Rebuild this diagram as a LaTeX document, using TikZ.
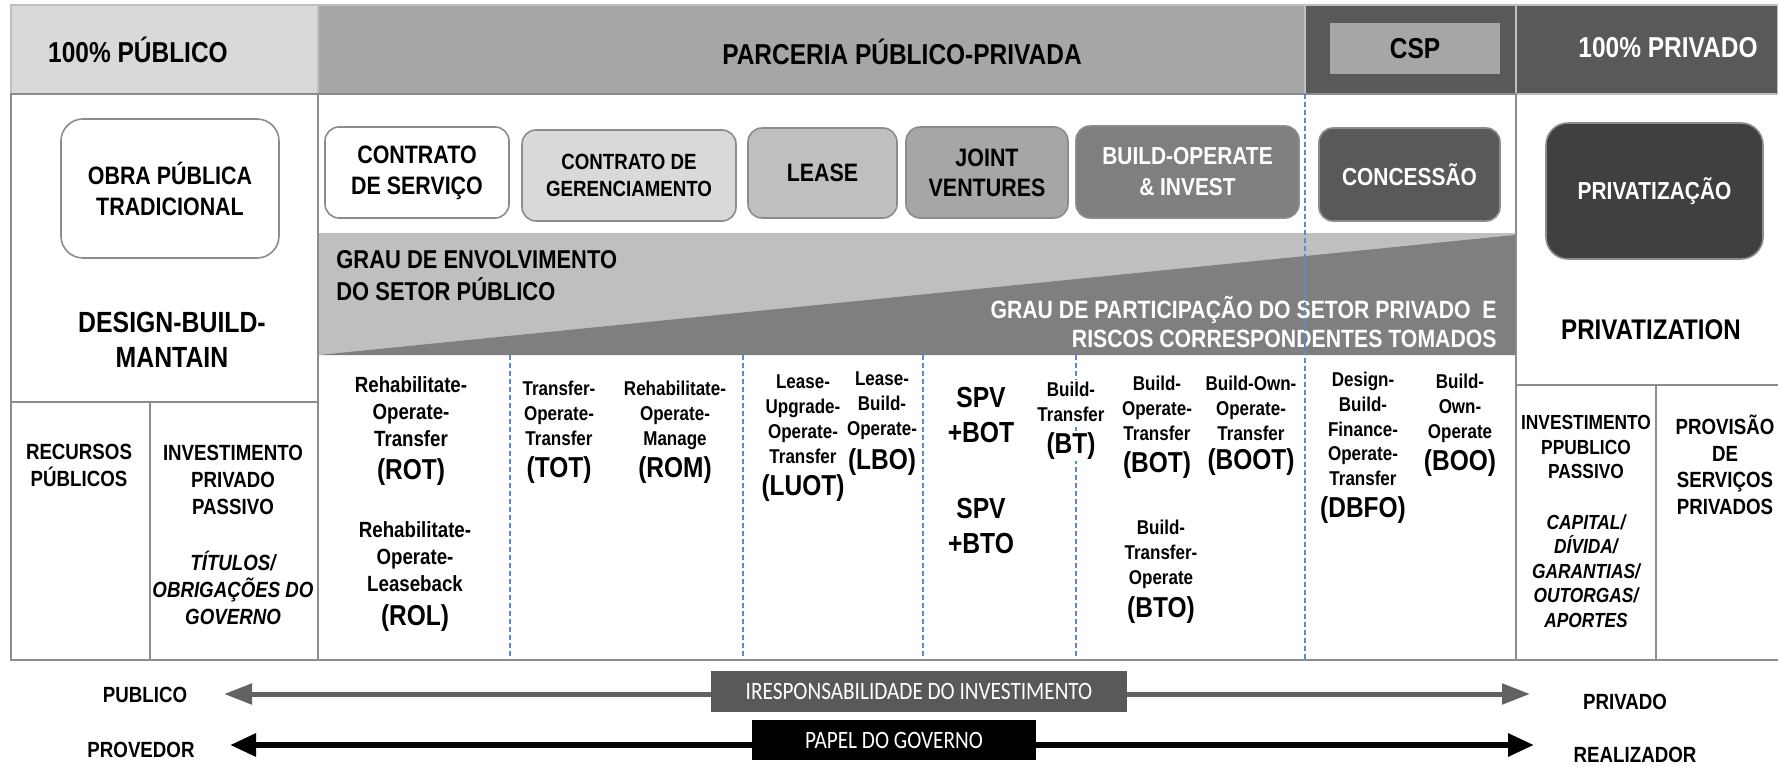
\documentclass[tikz,border=0pt]{standalone}
\usepackage{fontspec}
\setmainfont{Liberation Sans}[FakeStretch=0.85]
\newfontfamily\calfont{Carlito}[FakeStretch=0.85]
\usetikzlibrary{arrows.meta}
\definecolor{g1}{HTML}{D9D9D9}
\definecolor{g2}{HTML}{BFBFBF}
\definecolor{g3}{HTML}{A6A6A6}
\definecolor{g4}{HTML}{7F7F7F}
\definecolor{g5}{HTML}{595959}
\definecolor{g6}{HTML}{404040}
\definecolor{garrow}{HTML}{626262}
\definecolor{tabline}{HTML}{8C8C8C}
\definecolor{dashblue}{HTML}{5B8BD0}
\newcommand\fsz[2]{\fontsize{#1}{#2}\selectfont}
\begin{document}
\begin{tikzpicture}[x=0.5pt,y=-0.5pt,
  hdr/.style={inner sep=0pt,font=\bfseries\fsz{14.4}{17}},
  pbox/.style={draw=tabline,line width=0.8pt,rounded corners=7pt,align=center,inner sep=0pt,font=\bfseries\fsz{12.6}{15.5}},
  sm/.style={align=center,inner sep=0pt,font=\bfseries\fsz{10}{12.5}},
  smb/.style={align=center,inner sep=0pt,font=\bfseries\fsz{11}{13.5}},
  abbr/.style={inner sep=0pt,font=\bfseries\fsz{14.4}{17}},
  spv/.style={align=center,inner sep=0pt,font=\bfseries\fsz{14.5}{17.5}},
  sepline/.style={dashblue,line width=0.6pt,dash pattern=on 2.5pt off 1.5pt},
  cell/.style={draw=tabline,line width=1pt},
  lbl/.style={inner sep=0pt,font=\bfseries\fsz{11}{13}},
  arrbox/.style={inner sep=0pt,text=white,font=\calfont\fsz{12.5}{14}}
]
\useasboundingbox[fill=white] (0,0) rectangle (1778,766);

% header
\filldraw[fill=g1,draw=g2,line width=0.6pt] (11,5) rectangle (318,94);
\filldraw[fill=g3,draw=g2,line width=0.6pt] (318,5) rectangle (1305,94);
\filldraw[fill=g5,draw=g2,line width=0.6pt] (1305,5) rectangle (1516,94);
\filldraw[fill=g5,draw=g2,line width=0.6pt] (1516,5) rectangle (1778,94);
\node[hdr] (hpub) at (138,50) {100\% PÚBLICO};
\node[hdr] (hppp) at (902,52) {PARCERIA PÚBLICO-PRIVADA};
\node[hdr,fill=g3,minimum width=85pt,minimum height=25.5pt] (hcsp) at (1415,48.5) {CSP};
\node[hdr,text=white] (hpriv) at (1668,48) {100\% PRIVADO};

% table body
\draw[cell] (11,94) rectangle (318,660);
\draw[cell] (11,402) -- (318,402);
\draw[cell] (150,402) -- (150,660);
\draw[cell] (318,94) rectangle (1516,660);
\draw[cell] (1516,385) -- (1778,385);
\draw[cell] (1656,385) -- (1656,660);
\draw[cell] (1516,660) -- (1778,660);

% band
\fill[g2] (319,233) rectangle (1515,355);
\fill[g4] (319,355) -- (1515,235) -- (1515,355) -- cycle;
\node[font=\bfseries\fsz{12.9}{16},align=left,anchor=west,inner sep=0pt] (env) at (336,276) {GRAU DE ENVOLVIMENTO\\DO SETOR PÚBLICO};
\node[font=\bfseries\fsz{12.5}{14.5},align=right,anchor=east,text=white,inner sep=0pt] (part) at (1497,322) {GRAU DE PARTICIPAÇÃO DO SETOR PRIVADO\ \ E\\RISCOS CORRESPONDENTES TOMADOS};

% separators
\draw[sepline] (510,355) -- (510,660);
\draw[sepline] (743,355) -- (743,660);
\draw[sepline] (923,355) -- (923,660);
\draw[sepline] (1076,355) -- (1076,660);
\draw[sepline] (1305,94) -- (1305,660);

% boxes
\node[pbox,fill=white,rounded corners=11pt,minimum width=109pt,minimum height=69.5pt] (obra) at (170,188.5) {OBRA PÚBLICA\\TRADICIONAL};
\node[pbox,fill=white,minimum width=92pt,minimum height=45.5pt] (cserv) at (417,172.5) {CONTRATO\\DE SERVIÇO};
\node[pbox,fill=g1,minimum width=107pt,minimum height=45.5pt,font=\bfseries\fsz{11}{13.5}] (cger) at (629,175.5) {CONTRATO DE\\GERENCIAMENTO};
\node[pbox,fill=g2,minimum width=74.5pt,minimum height=45pt] (lease) at (822.5,173) {LEASE};
\node[pbox,fill=g3,minimum width=81pt,minimum height=45.5pt,font=\bfseries\fsz{12.6}{15}] (jv) at (987,172.5) {JOINT\\VENTURES};
\node[pbox,fill=g4,text=white,font=\bfseries\fsz{12.3}{15.5},minimum width=111.5pt,minimum height=46pt] (boi) at (1187.5,172) {BUILD-OPERATE\\\& INVEST};
\node[pbox,fill=g5,text=white,font=\bfseries\fsz{12.3}{15},minimum width=90.5pt,minimum height=46.5pt] (conc) at (1409.5,174.5) {CONCESSÃO};
\node[pbox,fill=g6,text=white,font=\bfseries\fsz{12.3}{15},rounded corners=11pt,minimum width=108.5pt,minimum height=68pt] (privz) at (1654.5,191) {PRIVATIZAÇÃO};

% left column texts
\node[align=center,inner sep=0pt,font=\bfseries\fsz{14.6}{17.5}] (dbm) at (172,340) {DESIGN-BUILD-\\MANTAIN};
\node[smb] (rec) at (79,465) {RECURSOS\\PÚBLICOS};
\node[smb] (ipp) at (233,480) {INVESTIMENTO\\PRIVADO\\PASSIVO};
\node[smb,font=\bfseries\itshape\fsz{11}{13.5}] (tit) at (233,588) {TÍTULOS/\\OBRIGAÇÕES DO\\GOVERNO};

% right column texts
\node[font=\bfseries\fsz{14.2}{17},inner sep=0pt] (pzn) at (1651,330) {PRIVATIZATION};
\node[sm,font=\bfseries\fsz{10.2}{12.3}] (ipub) at (1586,447) {INVESTIMENTO\\PPUBLICO\\PASSIVO};
\node[sm,font=\bfseries\itshape\fsz{10.2}{12.3}] (capt) at (1586,571) {CAPITAL/\\DÍVIDA/\\GARANTIAS/\\OUTORGAS/\\APORTES};
\node[smb,font=\bfseries\fsz{11}{13.3}] (prov) at (1725,465) {PROVISÃO\\DE\\SERVIÇOS\\PRIVADOS};

% middle body texts
\node[smb] (rot) at (411,412) {Rehabilitate-\\Operate-\\Transfer};
\node[abbr] (rotA) at (411,472) {(ROT)};
\node[smb] (rol) at (415,557) {Rehabilitate-\\Operate-\\Leaseback};
\node[abbr] (rolA) at (415,618) {(ROL)};
\node[sm] (tot) at (559,413) {Transfer-\\Operate-\\Transfer};
\node[abbr] (totA) at (559,470) {(TOT)};
\node[sm] (rom) at (675,415) {Rehabilitate-\\Operate-\\Manage};
\node[abbr] (romA) at (675,470) {(ROM)};
\node[sm] (luot) at (803,419) {Lease-\\Upgrade-\\Operate-\\Transfer};
\node[abbr] (luotA) at (803,488) {(LUOT)};
\node[sm] (lbo) at (882,406) {Lease-\\Build-\\Operate-};
\node[abbr] (lboA) at (882,462) {(LBO)};
\node[spv] (spvbot) at (981,415) {SPV\\+BOT};
\node[spv] (spvbto) at (981,526) {SPV\\+BTO};
\node[sm,fill=white,inner sep=1pt] (bt) at (1071,402) {Build-\\Transfer};
\node[abbr,fill=white,inner sep=1pt] (btA) at (1071,446) {(BT)};
\node[sm] (bot) at (1157,408) {Build-\\Operate-\\Transfer};
\node[abbr] (botA) at (1157,465) {(BOT)};
\node[sm] (bto) at (1161,554) {Build-\\Transfer-\\Operate};
\node[abbr] (btoA) at (1161,610) {(BTO)};
\node[sm] (boot) at (1251,408) {Build-Own-\\Operate-\\Transfer};
\node[abbr] (bootA) at (1251,462) {(BOOT)};
\node[sm,font=\bfseries\fsz{10}{12.3}] (dbfo) at (1363,429) {Design-\\Build-\\Finance-\\Operate-\\Transfer};
\node[abbr] (dbfoA) at (1363,510) {(DBFO)};
\node[sm] (boo) at (1460,408) {Build-\\Own-\\Operate};
\node[abbr] (booA) at (1460,463) {(BOO)};

% bottom arrows
\coordinate (a1l) at (224,694);
\coordinate (a1r) at (1530,694);
\draw[garrow,line width=2.5pt,{Triangle[length=14pt,width=10pt]}-{Triangle[length=14pt,width=10pt]}] (a1l) -- (a1r);
\node[arrbox,fill=g5,minimum width=208pt,minimum height=20.5pt] (resp) at (919,691.5) {IRESPONSABILIDADE DO INVESTIMENTO};
\coordinate (a2l) at (230,745);
\coordinate (a2r) at (1534,745);
\draw[black,line width=3pt,{Triangle[length=13pt,width=11pt]}-{Triangle[length=13pt,width=11pt]}] (a2l) -- (a2r);
\node[arrbox,fill=black,minimum width=142pt,minimum height=20pt] (papel) at (894,740) {PAPEL DO GOVERNO};

\node[lbl] (publico) at (145,695) {PUBLICO};
\node[lbl] (provedor) at (141,750) {PROVEDOR};
\node[lbl] (privado) at (1625,702) {PRIVADO};
\node[lbl] (realiz) at (1635,755) {REALIZADOR};
\end{tikzpicture}
\end{document}
